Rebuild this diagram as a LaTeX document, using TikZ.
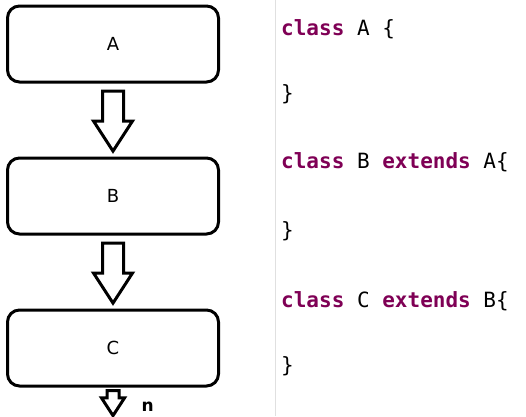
\documentclass[tikz,border=0pt]{standalone}
\usepackage{fontspec}
\setmainfont{DejaVu Sans}
\newfontfamily\codefont{DejaVu Sans Mono}
\usetikzlibrary{positioning,calc,shapes.arrows}

\definecolor{keyword}{HTML}{7F0055}
\newcommand{\kw}[1]{\textcolor{keyword}{\textbf{#1}}}

\begin{document}
\begin{tikzpicture}[
    x=1pt, % one unit per pixel of the reference
    y=-1pt,
    class box/.style={draw, line width=3pt, rounded corners=12pt,
        minimum width=211pt, minimum height=76pt, font=\fontsize{18}{20}\selectfont},
    hollow arrow/.style={single arrow, draw, line width=3pt, fill=white,
        rotate=-90, inner xsep=0pt, inner ysep=9pt, single arrow tip angle=66,
        single arrow head extend=9pt, minimum height=60pt},
    code line/.style={anchor=base west, inner sep=0pt,
        font=\codefont\fontsize{21}{24}\selectfont}
    ]

\useasboundingbox (0,0) rectangle (526,416);

% --- Divider next to the code ---
\draw[black!12, line width=1pt] (275,0) -- (275,416);

% --- Class boxes ---
\foreach \name [count=\i from 0] in {A,B,C} {
    \node[class box] (box-\name) at (113, 44 + \i*152) {\name};
}

% --- Inheritance arrows ---
\node[hollow arrow] (arr-AB) at ($(box-A.south)!0.5!(box-B.north)+(0,-7)$) {};
\node[hollow arrow] (arr-BC) at ($(box-B.south)!0.5!(box-C.north)+(0,-7)$) {};
\node[hollow arrow, inner ysep=4.5pt, minimum height=25pt,
      single arrow head extend=5.5pt] (arr-n) at ($(box-C.south)+(0,11)$) {};
\node[anchor=base west, font=\fontsize{17}{19}\selectfont\bfseries] (lbl-n) at (138,411) {n};

% --- Java source ---
\node[code line] (code-1) at (281,35)  {\kw{class} A \{};
\node[code line] (code-2) at (281,100) {\}};
\node[code line] (code-3) at (281,168) {\kw{class} B \kw{extends} A\{};
\node[code line] (code-4) at (281,237) {\}};
\node[code line] (code-5) at (281,307) {\kw{class} C \kw{extends} B\{};
\node[code line] (code-6) at (281,372) {\}};

\end{tikzpicture}
\end{document}
